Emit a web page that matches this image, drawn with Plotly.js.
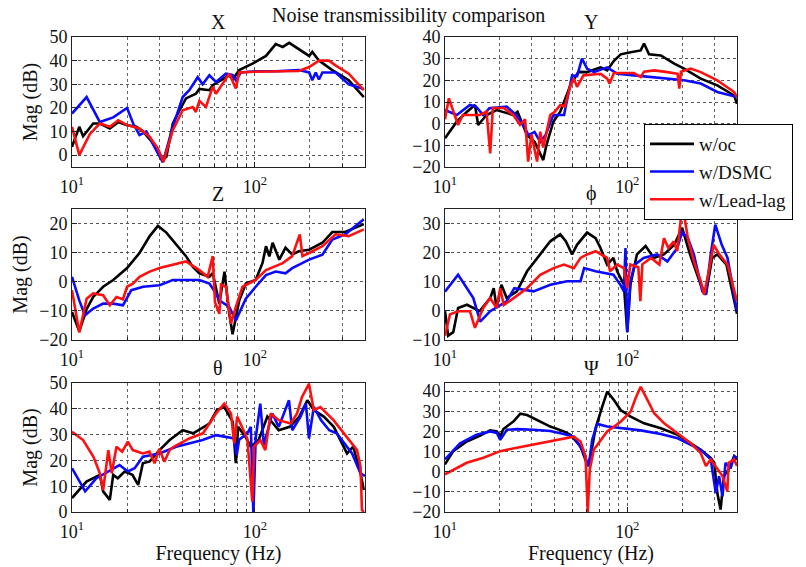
<!DOCTYPE html>
<html>
<head>
<meta charset="utf-8">
<script src="https://cdn.plot.ly/plotly-3.0.1.min.js"></script>
<style>html,body{margin:0;padding:0;background:#fff;}#chart{width:806px;height:567px;}</style>
</head>
<body>
<div id="chart"></div>
<script>
// ---------- data (frequency in Hz, magnitude in dB) ----------
const seriesNames = ["w/oc", "w/DSMC", "w/Lead-lag"];
const panelTitles = ["X", "Y", "Z", "\u03D5", "\u03B8", "\u03A8"];
const xMajorVals = [10, 100];
const xMajorText = ["10<sup>1</sup>", "10<sup>2</sup>"];
const xMinorVals = [20, 30, 40, 50, 60, 70, 80, 90, 200, 300];

// Panel X
const xWocF = [10, 10.96, 11.5, 13.06, 14.2, 16.1, 17.9, 20, 22.5, 24.5, 28.9, 31.4, 32.8, 35.6, 38.7, 42, 47.6, 49.7, 56.4, 58.8, 65.3, 72.4, 75.5, 82.1, 97, 115, 130, 142, 154, 174, 198, 206, 224, 265, 326, 394];
const xWocV = [3.5, 12, 8, 13.4, 13.4, 11.3, 14, 12.7, 12, 10, 3.5, -2, -0.7, 13.4, 19, 24, 26, 28, 27.5, 29.6, 31.7, 33.8, 32, 36, 38.7, 42, 47, 45.8, 47.5, 45, 42, 43.7, 40, 36, 31.7, 24.6];
const xDsmcF = [10, 12.02, 14.2, 16.8, 20, 21.6, 23.4, 25.5, 28.9, 31.4, 35.6, 40.3, 43.8, 48.7, 51.8, 56.4, 61.3, 69.4, 75.5, 78.7, 83.8, 100, 130, 174, 198, 206, 215, 224, 234, 276, 326, 394];
const xDsmcV = [17.6, 24.6, 14, 16, 20, 13.4, 8.5, 10, 2, -3, 12, 24.6, 27.5, 33, 30, 33.8, 31, 34.5, 34, 31.7, 35, 35.5, 35.5, 36, 35, 31.7, 35, 32, 35, 35, 30, 28];
const xLeadF = [10, 10.96, 12.53, 14.2, 16.1, 17.9, 20, 23.4, 26.6, 29.5, 31.6, 35.6, 40.3, 45.7, 47.6, 49.7, 54, 58.8, 61.3, 72.4, 78.7, 82.1, 100, 130, 174, 198, 224, 254, 276, 326, 394];
const xLeadV = [12, 0, 9, 13.4, 12, 14.8, 12.7, 11.3, 7.7, 2.8, -2.8, 10.6, 19, 20.4, 18.3, 23, 20.4, 28.9, 26, 34.5, 28.2, 35, 35.3, 35.5, 35.6, 37.3, 40, 40, 38, 34.5, 27.5];

// Panel Y
const yWocF = [10, 11.6, 13.2, 14.6, 15.2, 16.9, 19.2, 23.7, 25, 28.2, 31, 34.6, 36, 39.3, 42.9, 48.8, 54, 60.2, 71.4, 77.6, 84.5, 92, 104.4, 118.5, 123.6, 131.6, 152.8, 181, 205, 253, 312, 386, 400];
const yWocV = [-6.7, 0.9, 5.5, 8.6, -0.6, 4, 6.3, 4, 5.5, -5.3, -8.4, -16.8, -9.9, 0.9, 5.5, 17.8, 23.9, 23.8, 26, 24.6, 29, 32, 33, 33.8, 37, 32, 31.5, 27.7, 25.4, 20.8, 17.7, 13, 9.2];
const yDsmcF = [10, 11.6, 13.7, 14.8, 16.2, 17.5, 21.8, 24.5, 26.9, 28.7, 31, 33.3, 35.6, 39.3, 45, 49.8, 53.1, 56.4, 60.2, 65.6, 77.6, 88.2, 108.9, 134.6, 166, 205, 253, 312, 400];
const yDsmcV = [6.3, 4, 8.6, 7.9, 4, 7.1, 7.9, 4, -0.6, -5.3, -3.8, -8.4, -5.3, 4, 4, 22.3, 22, 30, 25.4, 23.8, 26, 23, 22.3, 21.5, 20.8, 20, 18.5, 14.6, 12.3];
const yLeadF = [10, 10.5, 11.8, 12.5, 14, 15.5, 16.9, 17.7, 18.3, 21, 23.7, 25.8, 27.5, 28.6, 29.8, 31, 32, 33.3, 34.6, 37.8, 40, 42.9, 45.5, 48.8, 51, 53, 57.5, 71.4, 77.6, 80, 84.5, 108.9, 118.5, 123.6, 140.4, 166, 189, 193, 197, 223, 253, 312, 386, 400];
const yLeadV = [2, 11.7, -0.6, 4, 4, 4, 5.5, -13.7, 7.2, 7.2, 4, -0.6, 2, -17.5, -5, -12, -17.5, -3.7, -11, 4, 5.5, 8.6, 8, 17.8, 20.8, 17, 22.3, 23, 20.8, 18.5, 23.4, 23.4, 21.5, 24, 24.6, 23.8, 23, 16.2, 24, 25.4, 23.8, 20, 14.6, 12.3];

// Panel Z
const zWocF = [10, 10.96, 12.02, 13.06, 14.8, 16.8, 20, 23.4, 26.6, 29.5, 32.8, 37.1, 42, 45.7, 49.7, 56.4, 58.8, 63.9, 68.2, 72.4, 75.5, 82.1, 89.2, 101, 110, 115, 120, 125, 136, 147, 160, 174, 198, 234, 265, 312, 394];
const zWocV = [-10.4, -17, -9.4, -5.2, -1.7, 0.6, 4.7, 9.9, 15.7, 19.2, 16.9, 12.8, 8.8, 5.2, 2.9, 1.7, 3, -7.5, 3.5, -11, -18, -6.4, -0.6, 0.6, 6.4, 12.2, 8.7, 13.4, 7.6, 11.7, 9.4, 10.5, 11, 13.4, 17.1, 17.1, 19.8];
const zDsmcF = [10, 10.96, 11.77, 13.06, 14.8, 16.8, 19, 21.1, 24.5, 30.1, 35.6, 42, 49.7, 56.4, 61.3, 63.9, 72.4, 78.7, 89.2, 101, 115, 130, 147, 160, 198, 234, 265, 312, 394];
const zDsmcV = [1.7, -6.4, -11.5, -9.2, -7.5, -7.5, -8.1, -2.9, -1.7, -1.2, 0.6, 0.6, 0.6, -0.6, -4, -6.4, -8.6, -13.3, -5.8, -1.7, 2.3, 3.5, 2.9, 4.7, 7.6, 9.3, 14.5, 16.3, 21.5];
const zLeadF = [10, 10.96, 12.02, 13.06, 14.8, 16.1, 17.5, 19, 20, 21.6, 23.4, 26.6, 30.1, 35.6, 42, 49.7, 55.2, 58.8, 60.5, 63.9, 65.3, 69.4, 74, 78.7, 85.6, 101, 115, 142, 160, 176, 182, 198, 234, 276, 326, 394];
const zLeadV = [-2.9, -17.4, -5.8, -4, -4.6, -8.1, -5.2, -6, -1.7, -0.6, 1.7, 3.5, 4.7, 5.8, 7, 4, 1.7, 8.8, -7, -11, -1, -1.7, -14.4, -8.6, -1.7, 0.6, 4, 6.4, 8.8, 16.3, 8.8, 9.9, 12.2, 16.3, 15.7, 18];

// Panel phi
const pWocF = [10, 10.4, 11.1, 11.8, 13.2, 15.5, 17.7, 18.5, 19.2, 20.4, 21.8, 24.8, 28.2, 33.3, 37.8, 42.9, 46, 49.8, 53, 60.2, 67, 71.3, 77.5, 84, 88, 95.8, 100, 104, 113, 126, 140, 159, 181, 200, 221, 253, 270, 292, 312, 350, 400];
const pWocV = [-0.1, -8.5, -7.3, 1, 2.1, -0.1, 4.4, 7.8, 1, 9, 4.4, 6.7, 13.6, 19.4, 23.9, 26.3, 23.9, 19.4, 22.7, 26.9, 25, 21.6, 15.9, 18.2, 13.6, 9, -7.3, 9, 19.4, 22.3, 18.2, 19.4, 22.7, 28.5, 19.4, 9, 5.6, 18.2, 19.4, 15.9, -1];
const pDsmcF = [10, 11.8, 14.3, 15.6, 17.7, 21.8, 24, 30.6, 37.8, 46.7, 55.4, 58, 67, 84, 91.6, 95.8, 97.8, 100, 104, 110, 123, 146, 166, 188, 200, 215, 232, 258, 270, 287, 304, 330, 355, 400];
const pDsmcV = [6.6, 12.4, 4.4, -3.7, -0.1, 3.3, 7.8, 6.7, 9, 10.2, 10.2, 14.7, 13.6, 12.4, 9, 6.7, 21.6, -7.3, 10.2, 15.9, 18.2, 19.4, 17, 21.6, 27, 25, 19.4, 6.7, 5.6, 19.4, 29.6, 22.7, 18.2, -0.1];
const pLeadF = [10, 10.65, 11.8, 13.7, 14.6, 16.2, 17.7, 19.2, 20.1, 21, 23.8, 28.2, 33.3, 39.4, 45, 50.9, 55.4, 60.2, 67, 77.5, 80.5, 88, 95.8, 100, 104, 115, 118, 121, 135, 150, 159, 168, 180, 188, 197, 205, 215, 232, 253, 264, 280, 298, 320, 355, 400];
const pLeadV = [-8.5, -1.2, -0.1, -0.1, -5.8, 1, 4.4, 1, 7.8, 2, 4.4, 7.8, 12.4, 14.7, 15.9, 14.7, 18.2, 19.4, 20.5, 18.2, 13.6, 15.9, 14.7, 7.8, 15.9, 15, 3.3, 16, 18.2, 15.9, 25, 21.6, 23.9, 20.5, 31.9, 33, 25, 17, 10.2, 5.6, 13.6, 22.7, 19.4, 15.9, 3.3];

// Panel theta
const tWocF = [10, 12, 14.2, 14.8, 16.1, 16.8, 17.8, 19.4, 21.4, 23, 24.4, 26.6, 30.1, 34.2, 40.3, 46, 56.4, 62, 68, 75.6, 78.7, 81, 89, 95, 105, 117, 135, 155, 175, 193.6, 210, 238, 270, 319, 345, 378, 394];
const tWocV = [5.4, 11.8, 14.4, 8, 4.7, 14.4, 13.1, 15.7, 14.4, 10.5, 18.9, 19.6, 24, 27.9, 31.7, 30.5, 34.3, 39.5, 40.7, 35, 18.9, 33, 29, 25.3, 28, 37, 31.7, 33, 37, 43.3, 39.5, 37, 33, 22.7, 25.3, 15, 8.5];
const tDsmcF = [10, 11.8, 13.6, 16.8, 18.2, 20.2, 22, 24.4, 30.1, 37.1, 43.8, 51.8, 61.3, 77.1, 79.5, 82, 90.9, 95, 98.1, 101, 107, 112, 124.5, 135, 153.6, 160, 177.7, 190, 197.5, 210, 230, 255, 280, 319, 340, 378, 400];
const tDsmcV = [17, 8, 13.1, 17, 18.2, 15.7, 17, 21.4, 22.7, 25.3, 26.6, 27.9, 29.8, 28.5, 22, 28, 30.5, 33, -0.4, 28.5, 42, 26, 38.2, 33, 43.3, 31.7, 37, 42, 28.5, 40.7, 35.6, 31.7, 30.5, 25.3, 22.7, 15, 14];
const tLeadF = [10, 11.5, 13.1, 14.2, 14.8, 15.8, 16.5, 17.5, 18.8, 20.2, 21.5, 24.4, 26.5, 28.3, 30, 32, 34.2, 36, 43.8, 52, 61.3, 68, 74, 77.1, 80, 90.9, 96.8, 99, 107, 114, 122, 135, 157, 170, 181, 197.5, 210, 228, 269, 319, 362, 378, 385, 394];
const tLeadV = [31.1, 27.9, 21.4, 15, 8.5, 24, 15, 25.3, 23.4, 27.3, 24, 22.7, 23.4, 18.9, 24.5, 19.5, 24, 25.3, 28.5, 30.5, 38.2, 42, 38.2, 26.6, 37, 28.5, 4, 25.3, 27.9, 24, 38.2, 35.6, 34.3, 38.2, 44.6, 49.7, 39.5, 40.7, 35.6, 29.2, 24, 17.6, 0.8, 0];

// Panel Psi
const sWocF = [10, 11.1, 13.16, 15.6, 17.7, 19.25, 20.1, 20.9, 23.8, 25.9, 28.2, 31.95, 37.8, 44.8, 48.8, 55.4, 59, 60.7, 62.9, 67, 72.9, 77.6, 84.5, 92, 104.4, 123.6, 152.8, 189, 223, 253, 287, 300, 312, 325, 339, 360, 386, 400];
const sWocV = [3.6, 10.2, 15, 17.9, 20.5, 20, 17.4, 21.2, 25, 28.8, 28.1, 25.7, 22.4, 20, 18.3, 12.5, 6.1, 2.8, 7.7, 21.5, 32.3, 39.7, 35.6, 30.6, 27.3, 24, 21.5, 18.3, 14.1, 10.8, 6.9, 4.4, -10.6, -18.8, -2.2, 1.2, 7.7, 6];
const sDsmcF = [10, 12.1, 14.9, 17.7, 19.25, 20.1, 21.85, 24.8, 30.6, 37.8, 44.8, 50.9, 56.6, 60.2, 61.5, 64.2, 68.4, 77.6, 92, 118.5, 152.8, 189, 223, 253, 287, 306, 319, 333, 346, 369, 386, 400];
const sDsmcV = [6.1, 14.1, 18.3, 20, 19.2, 15.8, 20.8, 21.1, 20.8, 20.2, 18.7, 17.4, 10.8, 4.4, 2.8, 15.8, 23.7, 22.4, 21.5, 20.5, 18.7, 16.6, 13.3, 10.8, 6.1, -10.6, -2.2, -12.2, 4.4, 1.6, 7.7, 6.9];
const sLeadF = [10, 13.16, 16.25, 20.1, 24.8, 30.6, 37.8, 46.7, 50.9, 55.4, 59, 60.7, 62.3, 65.6, 77.6, 92, 104.4, 111, 118.5, 129, 140.4, 159.4, 189, 223, 253, 270, 287, 312, 333, 354, 360, 386, 400];
const sLeadV = [-1.3, 4.4, 6.9, 10.2, 11.9, 13.5, 15, 16.6, 17.4, 15, 7.7, -20, 1.2, 11, 20, 24.8, 29.8, 36.4, 42.1, 35.6, 29, 24, 19.2, 14.1, 9.2, 2.8, 6.1, 1.2, -2.2, -9.8, 4.4, 6.1, 2.8];

const panels = [
  {f: [xWocF, xDsmcF, xLeadF], v: [xWocV, xDsmcV, xLeadV]},
  {f: [yWocF, yDsmcF, yLeadF], v: [yWocV, yDsmcV, yLeadV]},
  {f: [zWocF, zDsmcF, zLeadF], v: [zWocV, zDsmcV, zLeadV]},
  {f: [pWocF, pDsmcF, pLeadF], v: [pWocV, pDsmcV, pLeadV]},
  {f: [tWocF, tDsmcF, tLeadF], v: [tWocV, tDsmcV, tLeadV]},
  {f: [sWocF, sDsmcF, sLeadF], v: [sWocV, sDsmcV, sLeadV]}
];
const yRanges = [[-5, 50], [-20, 40], [-20, 25], [-10, 35], [0, 50], [-20, 44]];
const yTicks = [[0,10,20,30,40,50], [-20,-10,0,10,20,30,40], [-20,-10,0,10,20], [-10,0,10,20,30], [0,10,20,30,40,50], [-20,-10,0,10,20,30,40]];

// ---------- styling ----------
const W = 806, H = 567;
const colors = ["#000000", "#0a0aff", "#ff1010"];
const serif = "Liberation Serif";
const txt = "#111";
const colPx = [[72, 365], [445, 737]];
const rowPx = [[37, 167], [209, 340], [383, 512]];

const traces = [];
panels.forEach((p, i) => {
  const ax = i === 0 ? "" : String(i + 1);
  [0, 1, 2].forEach(s => {
    traces.push({
      x: p.f[s], y: p.v[s], type: "scatter", mode: "lines",
      name: seriesNames[s], legendgroup: seriesNames[s], showlegend: i === 0,
      xaxis: "x" + ax, yaxis: "y" + ax,
      line: {color: colors[s], width: 2.6}
    });
  });
});

const layout = {
  width: W, height: H,
  margin: {l: 0, r: 0, t: 0, b: 0},
  paper_bgcolor: "#fff", plot_bgcolor: "#fff",
  font: {family: serif, size: 18, color: txt},
  showlegend: true,
  legend: {
    x: 644 / W, y: 1 - 124 / H, xanchor: "left", yanchor: "top",
    bgcolor: "#fff", bordercolor: "#000", borderwidth: 1,
    font: {family: serif, size: 19, color: txt},
    tracegroupgap: 0, itemwidth: 44
  },
  annotations: [
    {text: "Noise transmissibility comparison", xref: "paper", yref: "paper",
     x: 409 / W, y: 1 - 15 / H, xanchor: "center", yanchor: "middle", showarrow: false,
     font: {family: serif, size: 20, color: txt}}
  ]
};

panels.forEach((p, i) => {
  const col = i % 2, row = Math.floor(i / 2);
  const ax = i === 0 ? "" : String(i + 1);
  const xd = [colPx[col][0] / W, colPx[col][1] / W];
  const yd = [1 - rowPx[row][1] / H, 1 - rowPx[row][0] / H];
  const xa = {
    type: "log", range: [1, Math.log10(400)], domain: xd, anchor: "y" + ax,
    tickmode: "array", tickvals: xMajorVals, ticktext: xMajorText,
    showgrid: true, gridcolor: "#555", griddash: "dot", gridwidth: 1,
    minor: {tickmode: "array", tickvals: xMinorVals, showgrid: true, gridcolor: "#666", griddash: "dot", gridwidth: 1, ticks: "inside", ticklen: 3, tickcolor: "#222"},
    showline: true, mirror: true, linecolor: "#222", linewidth: 1,
    ticks: "inside", ticklen: 5, tickcolor: "#222",
    ticklabelstandoff: 3,
    zeroline: false, automargin: false,
    tickfont: {family: serif, size: 18, color: txt}
  };
  if (row === 2) xa.title = {text: "Frequency (Hz)", font: {family: serif, size: 20, color: txt}, standoff: 0};
  layout["xaxis" + ax] = xa;
  const ya = {
    range: yRanges[i], domain: yd, anchor: "x" + ax,
    tickmode: "array", tickvals: yTicks[i],
    showgrid: true, gridcolor: "#555", griddash: "dot", gridwidth: 1,
    showline: true, mirror: true, linecolor: "#222", linewidth: 1,
    ticks: "inside", ticklen: 5, tickcolor: "#222",
    zeroline: false, automargin: false,
    tickfont: {family: serif, size: 18, color: txt}
  };
  if (col === 0) ya.title = {text: "Mag (dB)", font: {family: serif, size: 20, color: txt}, standoff: 6};
  layout["yaxis" + ax] = ya;
  layout.annotations.push({
    text: panelTitles[i], xref: "paper", yref: "paper",
    x: (colPx[col][0] + colPx[col][1]) / 2 / W, y: yd[1], xanchor: "center", yanchor: "bottom", yshift: 2,
    showarrow: false, font: {family: serif, size: 20, color: txt}
  });
});

Plotly.newPlot("chart", traces, layout, {displayModeBar: false, staticPlot: true});
</script>
</body>
</html>
